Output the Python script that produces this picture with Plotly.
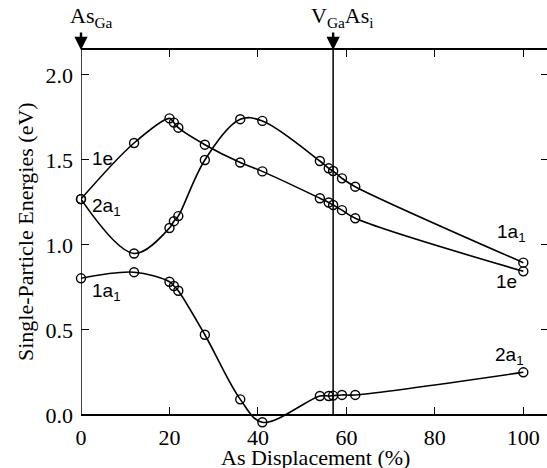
import plotly.graph_objects as go

# ---- data ----
displacement = [0, 12, 20, 21, 22, 28, 36, 41, 54, 56, 57, 59, 62, 100]
level_1e = [1.27, 1.60, 1.745, 1.72, 1.69, 1.59, 1.485, 1.433, 1.275, 1.25, 1.235, 1.205, 1.157, 0.845]
level_2a1 = [1.27, 0.95, 1.10, 1.14, 1.17, 1.50, 1.74, 1.73, 1.494, 1.451, 1.435, 1.392, 1.343, 0.896]
level_1a1 = [0.804, 0.84, 0.784, 0.759, 0.731, 0.472, 0.092, -0.043, 0.112, 0.112, 0.114, 0.118, 0.118, 0.251]
x_ticks = [0, 20, 40, 60, 80, 100]
y_ticks = [0.0, 0.5, 1.0, 1.5, 2.0]
y_tick_text = ["0.0", "0.5", "1.0", "1.5", "2.0"]
marker_x = [0, 57]

W, H = 547, 468
ML, MR, MT, MB = 81, 0, 50, 40
PW, PH = W - ML - MR, H - MT - MB
X_RANGE = [0, 105.35]
Y_TOP = 2.147
Y_MIN = -0.0765
SERIF = "Liberation Serif, Times New Roman, serif"
SANS = "Liberation Sans, Arial, sans-serif"


def px_x(p):
    return (p - ML) / PW


def px_y(p):
    return (H - MB - p) / PH


fig = go.Figure()
for name, vals in [("1e", level_1e), ("2a1", level_2a1), ("1a1", level_1a1)]:
    fig.add_trace(go.Scatter(
        x=displacement, y=vals, name=name, mode="lines+markers",
        line=dict(color="black", width=1.6, shape="spline", smoothing=1.0),
        marker=dict(symbol="circle-open", size=9, color="black", line=dict(width=1.4)),
        cliponaxis=False, showlegend=False))

fig.add_trace(go.Scatter(x=[None], y=[None], xaxis="x2", yaxis="y2", showlegend=False))

pos = (0 - Y_MIN) / (Y_TOP - Y_MIN)
fig.update_layout(
    width=W, height=H,
    font=dict(family=SERIF, color="black"),
    margin=dict(l=ML, r=MR, t=MT, b=MB, autoexpand=False),
    paper_bgcolor="white", plot_bgcolor="white",
    xaxis=dict(range=X_RANGE, anchor="free", position=pos, showline=True,
               linecolor="black", linewidth=1.5, ticks="inside", ticklen=7,
               tickwidth=1.3, tickcolor="black", tickvals=x_ticks,
               ticklabelstandoff=3,
               tickfont=dict(family=SERIF, size=22, color="black"),
               showgrid=False, zeroline=False, automargin=False),
    xaxis2=dict(range=X_RANGE, overlaying="x", side="top", anchor="y",
                showline=True, linecolor="black", linewidth=1.5, ticks="inside",
                ticklen=7, tickwidth=1.3, tickcolor="black", tickvals=x_ticks,
                showticklabels=False, showgrid=False, zeroline=False, automargin=False),
    yaxis=dict(range=[Y_MIN, Y_TOP], showline=False, ticks="inside", ticklen=8,
               tickwidth=1.3, tickcolor="black", tickvals=y_ticks,
               ticktext=y_tick_text, ticklabelstandoff=7,
               tickfont=dict(family=SERIF, size=22, color="black"),
               showgrid=False, zeroline=False, automargin=False),
    yaxis2=dict(range=[Y_MIN, Y_TOP], overlaying="y", side="right", anchor="x",
                showline=False, ticks="inside", ticklen=6, tickwidth=1.3,
                tickcolor="black", tickvals=y_ticks[1:], showticklabels=False,
                showgrid=False, zeroline=False, automargin=False),
)

fig.add_shape(type="line", xref="x", yref="y", x0=0, x1=0, y0=0, y1=Y_TOP,
              line=dict(color="black", width=1.5))
fig.add_shape(type="line", xref="x", yref="y", x0=marker_x[1], x1=marker_x[1], y0=0, y1=Y_TOP,
              line=dict(color="black", width=1.5))

for xv in marker_x:
    fig.add_annotation(x=xv, y=Y_TOP, xref="x", yref="y", text="", showarrow=True,
                       ax=0, ay=-19, arrowhead=2, arrowsize=1.1, arrowwidth=2.4,
                       arrowcolor="black")

top_font = dict(family=SERIF, size=22, color="black")
fig.add_annotation(x=px_x(91), y=px_y(17), xref="paper", yref="paper", text="As<sub>Ga</sub>",
                   showarrow=False, xanchor="center", yanchor="middle", font=top_font)
fig.add_annotation(x=px_x(342), y=px_y(17), xref="paper", yref="paper",
                   text="V<sub>Ga</sub>As<sub>i</sub>", xanchor="center", yanchor="middle",
                   showarrow=False, font=top_font)

lab_font = dict(family=SANS, size=19, color="black")
labels = [
    (2.0, 1.51, "1e", "left"),
    (2.0, 1.225, "2a<sub>1</sub>", "left"),
    (2.0, 0.725, "1a<sub>1</sub>", "left"),
    (97.3, 1.07, "1a<sub>1</sub>", "center"),
    (96.3, 0.785, "1e", "center"),
    (96.9, 0.345, "2a<sub>1</sub>", "center"),
]
for xv, yv, t, anc in labels:
    fig.add_annotation(x=xv, y=yv, xref="x", yref="y", text=t, showarrow=False,
                       xanchor=anc, yanchor="middle", font=lab_font)

fig.add_annotation(x=px_x(315), y=px_y(457), xref="paper", yref="paper",
                   text="As Displacement (%)", showarrow=False,
                   xanchor="center", yanchor="middle",
                   font=dict(family=SERIF, size=22, color="black"))
fig.add_annotation(x=px_x(25), y=px_y(232), xref="paper", yref="paper",
                   text="Single-Particle Energies (eV)", textangle=-90, showarrow=False,
                   xanchor="center", yanchor="middle",
                   font=dict(family=SERIF, size=22, color="black"))

fig.write_html("out.html", config={"displayModeBar": False},
               post_script="document.body.style.margin='0px';document.body.style.overflow='hidden';")
